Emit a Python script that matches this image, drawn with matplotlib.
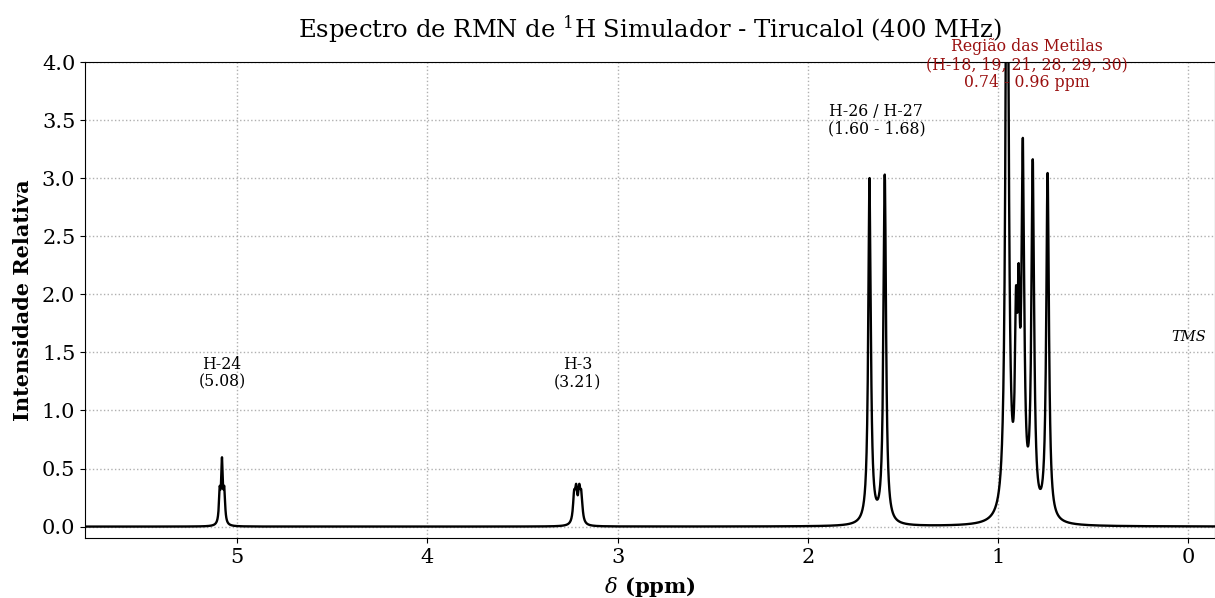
import matplotlib
matplotlib.use("Agg")
import matplotlib.pyplot as plt
import numpy as np

plt.rcParams['font.family'] = 'DejaVu Serif'
plt.rcParams['mathtext.fontset'] = 'dejavuserif'

# line list: position (ppm), height, half width (ppm)
peak_pos = [5.092, 5.080, 5.068,
            3.229, 3.218, 3.202, 3.191,
            1.676, 1.596,
            0.953, 0.906, 0.892, 0.870, 0.818, 0.740]
peak_height = [0.26, 0.52, 0.26,
               0.22, 0.25, 0.25, 0.22,
               2.97, 3.00,
               6.5, 1.36, 1.42, 3.0, 3.0, 2.98]
peak_hwhm = [0.005, 0.005, 0.005,
             0.007, 0.007, 0.007, 0.007,
             0.008, 0.008,
             0.009, 0.007, 0.007, 0.0085, 0.0085, 0.0085]

# labels
lab_text = ['H-24\n(5.08)', 'H-3\n(3.21)', 'H-26 / H-27\n(1.60 - 1.68)']
lab_x = [5.08, 3.21, 1.64]
lab_y = [1.32, 1.32, 3.50]

ppm = np.linspace(-0.2, 5.9, 60000)
spec = np.zeros_like(ppm)
for p, h, g in zip(peak_pos, peak_height, peak_hwhm):
    spec += h * g**2 / ((ppm - p)**2 + g**2)

fig, ax = plt.subplots(figsize=(12.15, 5.98), dpi=100)
fig.subplots_adjust(left=0.07, right=1.0, top=0.896, bottom=0.1)

ax.plot(ppm, spec, color='black', lw=1.7)
ax.set_xlim(5.8, -0.14)
ax.set_ylim(-0.1, 4.0)
ax.grid(True, linestyle=':', color='#b0b0b0', lw=1.0)

for t, x, y in zip(lab_text, lab_x, lab_y):
    ax.text(x, y, t, ha='center', va='center', fontsize=11.3, linespacing=1.05)

ax.text(0.85, 3.98, 'Região das Metilas\n(H-18, 19, 21, 28, 29, 30)\n0.74 - 0.96 ppm',
        ha='center', va='center', fontsize=11.3, linespacing=1.05, color='#9a1010')
ax.text(0.0, 1.63, 'TMS', ha='center', va='center', fontsize=10.5, style='italic')

ax.set_title('Espectro de RMN de $^1$H Simulador - Tirucalol (400 MHz)', fontsize=17.5, pad=18)
ax.set_xlabel(r'$\delta$ (ppm)', fontsize=15.2, fontweight='bold', labelpad=5.5)
ax.set_ylabel('Intensidade Relativa', fontsize=15, fontweight='bold', labelpad=6)
ax.tick_params(labelsize=15)

fig.savefig('out.png')
